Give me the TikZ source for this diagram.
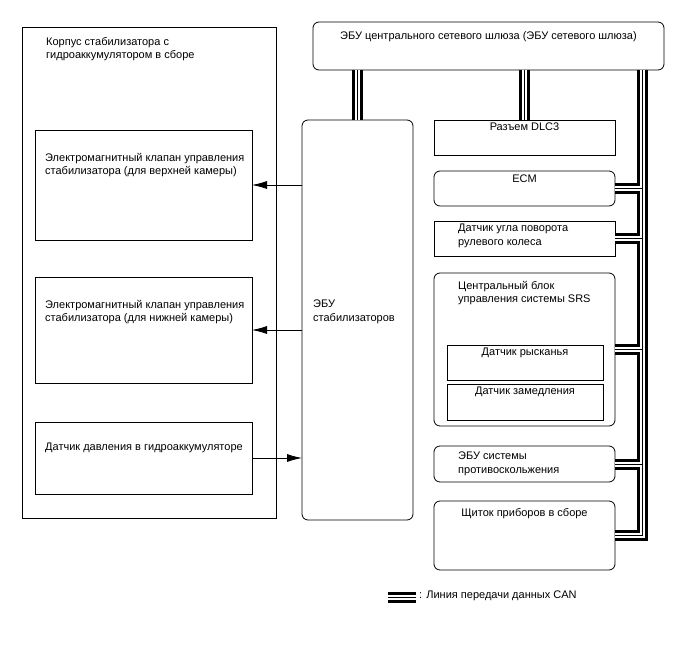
\documentclass[tikz,border=0pt]{standalone}
\usepackage{fontspec}
\setmainfont{Liberation Sans}
\usetikzlibrary{arrows.meta, positioning}

\tikzset{
  box/.style={draw, line width=0.8pt, anchor=north west, inner sep=0pt, outer sep=0pt},
  rbox/.style={box, rounded corners=6pt},
  txt/.style={inner sep=0pt, align=left, font=\fontsize{11}{13.6}\selectfont},
  sig/.style={line width=0.8pt, -{Latex[length=15pt, width=8pt]}},
  can/.style={line width=11pt, line join=miter,
    postaction={draw=white, line width=5pt},
    postaction={draw=black, line width=1pt}}
}

\begin{document}
\begin{tikzpicture}[x=1pt, y=-1pt]
\useasboundingbox (0,0) rectangle (688,658);

% stabilizer housing
\node[box, minimum width=254, minimum height=491] (housing) at (22,27) {};
\node[txt, below right=10pt and 24pt of housing.north west] (t-housing) {Корпус стабилизатора с\\гидроаккумулятором в сборе};
\node[box, minimum width=217, minimum height=110] (sol-up) at (35,130) {};
\node[txt, below right=23pt and 10pt of sol-up.north west] (t-sol-up) {Электромагнитный клапан управления\\стабилизатора (для верхней камеры)};
\node[box, minimum width=217, minimum height=106] (sol-low) at (35,277) {};
\node[txt, below right=23pt and 10pt of sol-low.north west] (t-sol-low) {Электромагнитный клапан управления\\стабилизатора (для нижней камеры)};
\node[box, minimum width=217, minimum height=72] (psens) at (35,422) {};
\node[txt, below right=21pt and 10pt of psens.north west] (t-psens) {Датчик давления в гидроаккумуляторе};

% stabilizer ECU
\node[rbox, minimum width=111, minimum height=400] (stab) at (302,120) {};
\node[txt, below right=180pt and 11pt of stab.north west] (t-stab) {ЭБУ\\стабилизаторов};

\draw[sig] (stab.west |- sol-up.east) -- (sol-up.east);
\draw[sig] (stab.west |- sol-low.east) -- (sol-low.east);
\draw[sig] (psens.east) -- (psens.east -| stab.west);

% gateway and CAN members
\node[rbox, minimum width=351, minimum height=48] (gw) at (313,22) {};
\node[txt, below=9pt of gw.north] (t-gw) {ЭБУ центрального сетевого шлюза (ЭБУ сетевого шлюза)};
\node[box, minimum width=181, minimum height=35] (dlc) at (434,120) {};
\node[txt, below=3pt of dlc.north] (t-dlc) {Разъем DLC3};
\node[rbox, minimum width=181, minimum height=35] (ecm) at (434,171) {};
\node[txt, below=3.5pt of ecm.north] (t-ecm) {ECM};
\node[box, minimum width=181, minimum height=35] (steer) at (434,221) {};
\node[txt, below right=3pt and 24pt of steer.north west] (t-steer) {Датчик угла поворота\\рулевого колеса};
\node[rbox, minimum width=181, minimum height=153] (srs) at (434,273) {};
\node[txt, below right=8pt and 24pt of srs.north west] (t-srs) {Центральный блок\\управления системы SRS};
\node[box, minimum width=156, minimum height=35] (yaw) at (447,345) {};
\node[txt, below=3pt of yaw.north] (t-yaw) {Датчик рысканья};
\node[box, minimum width=156, minimum height=36] (decel) at (447,384) {};
\node[txt, below=3pt of decel.north] (t-decel) {Датчик замедления};
\node[rbox, minimum width=181, minimum height=36] (abs) at (434,446) {};
\node[txt, below right=6pt and 24pt of abs.north west] (t-abs) {ЭБУ системы\\противоскольжения};
\node[rbox, minimum width=181, minimum height=69] (meter) at (434,501) {};
\node[txt, below=7pt of meter.north] (t-meter) {Щиток приборов в сборе};

% CAN lines
\coordinate (bus) at (642,0);
\draw[can] (stab.north) -- (stab.north |- gw.south)
  (dlc.north) -- (dlc.north |- gw.south)
  (bus |- gw.south) -- (bus |- meter.east) -- (meter.east)
  (ecm.east) -- (ecm.east -| bus)
  (steer.east) -- (steer.east -| bus)
  (srs.east) -- (srs.east -| bus)
  (abs.east) -- (abs.east -| bus);

% legend
\coordinate (lgd) at (388,597);
\node[txt, anchor=west] (t-lgd) at (419,596) {: Линия передачи данных CAN};
\draw[can] (lgd) -- ([xshift=-3pt]lgd -| t-lgd.west);
\end{tikzpicture}
\end{document}
